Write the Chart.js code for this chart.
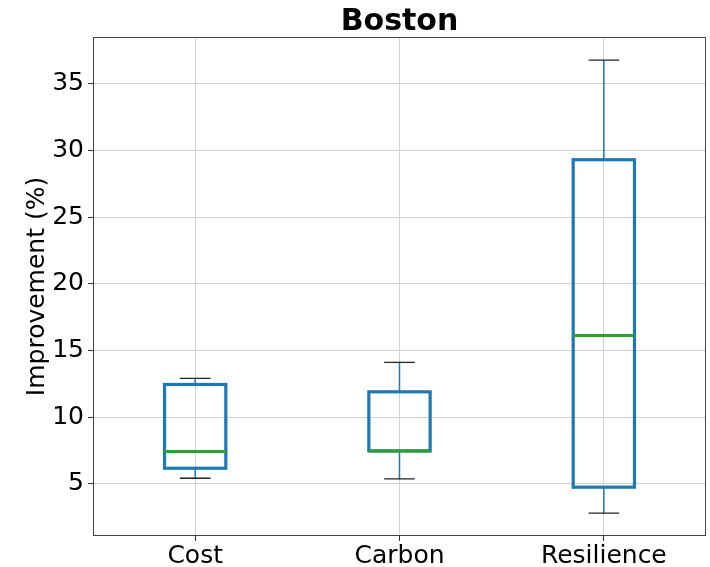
<!DOCTYPE html>
<html>
<head>
<meta charset="utf-8">
<script src="https://cdn.jsdelivr.net/npm/chart.js@4.4.1/dist/chart.umd.min.js"></script>
<style>
  html, body { margin: 0; padding: 0; background: #fff; }
  #wrap { width: 710px; height: 567px; }
</style>
</head>
<body>
<div id="wrap"><canvas id="boxChart" width="710" height="567"></canvas></div>
<script>
// values
const categories = ['Cost', 'Carbon', 'Resilience'];
const whiskerLow = [5.42, 5.37, 2.8];
const quart1 = [6.17, 7.47, 4.75];
const medians = [7.42, 7.47, 16.12];
const quart3 = [12.45, 11.9, 29.3];
const whiskerHigh = [12.9, 14.1, 36.77];
const yTicks = [5, 10, 15, 20, 25, 30, 35];

const boxBlue = '#1f77b4';
const medianGreen = '#2ca02c';

// boxes, whiskers, caps, medians and the frame, drawn from the bar elements / scales
const boxExtras = {
    id: 'boxExtras',
    afterDatasetsDraw(chart) {
        const ctx = chart.ctx;
        const y = chart.scales.y;
        const meta = chart.getDatasetMeta(0);
        const area = chart.chartArea;
        ctx.save();
        meta.data.forEach((bar, i) => {
            const cx = bar.x;
            const half = bar.width / 2;
            const top = y.getPixelForValue(quart3[i]);
            const bot = y.getPixelForValue(quart1[i]);
            // whiskers
            ctx.strokeStyle = boxBlue;
            ctx.lineWidth = 1.5;
            ctx.beginPath();
            ctx.moveTo(cx, top);
            ctx.lineTo(cx, y.getPixelForValue(whiskerHigh[i]));
            ctx.moveTo(cx, bot);
            ctx.lineTo(cx, y.getPixelForValue(whiskerLow[i]));
            ctx.stroke();
            // caps
            ctx.strokeStyle = '#222';
            ctx.lineWidth = 1.3;
            ctx.beginPath();
            ctx.moveTo(cx - half / 2, y.getPixelForValue(whiskerHigh[i]));
            ctx.lineTo(cx + half / 2, y.getPixelForValue(whiskerHigh[i]));
            ctx.moveTo(cx - half / 2, y.getPixelForValue(whiskerLow[i]));
            ctx.lineTo(cx + half / 2, y.getPixelForValue(whiskerLow[i]));
            ctx.stroke();
            // box
            ctx.strokeStyle = boxBlue;
            ctx.lineWidth = 3.2;
            ctx.lineJoin = 'miter';
            ctx.strokeRect(cx - half, top, half * 2, bot - top);
            // median
            const my = y.getPixelForValue(medians[i]);
            ctx.strokeStyle = medianGreen;
            ctx.lineWidth = 3;
            ctx.beginPath();
            ctx.moveTo(cx - half, my);
            ctx.lineTo(cx + half, my);
            ctx.stroke();
        });
        ctx.strokeStyle = '#444';
        ctx.lineWidth = 1;
        ctx.strokeRect(area.left + 0.5, area.top + 0.5, area.right - area.left - 1, area.bottom - area.top - 1);
        ctx.restore();
    }
};

const boxData = categories.map((c, i) => [quart1[i], quart3[i]]);

const ctx = document.getElementById('boxChart').getContext('2d');
const boxChart = new Chart(ctx, {
    type: 'bar',
    data: {
        labels: categories,
        datasets: [{
            data: boxData,
            backgroundColor: 'rgba(0,0,0,0)',
            borderWidth: 0,
            barPercentage: 0.3,
            categoryPercentage: 1
        }]
    },
    options: {
        responsive: false,
        animation: false,
        layout: { padding: { left: 0, right: 4, top: 0, bottom: 0 } },
        plugins: {
            legend: { display: false },
            tooltip: { enabled: false },
            title: {
                display: true,
                fullSize: false,
                text: 'Boston',
                color: '#000',
                font: { family: 'DejaVu Sans', size: 30, weight: 'bold', lineHeight: 0.9 },
                padding: { top: 9, bottom: 1 }
            }
        },
        scales: {
            x: {
                offset: true,
                grid: { offset: false, color: '#d0d0d0', lineWidth: 1, tickLength: 5, tickColor: '#333' },
                border: { display: false },
                ticks: { color: '#000', font: { family: 'DejaVu Sans', size: 25 }, padding: 0, maxRotation: 0 },
                afterFit(scale) { scale.height = 31; }
            },
            y: {
                min: 1.09,
                max: 38.5,
                grid: { color: '#d0d0d0', lineWidth: 1, tickLength: 5, tickColor: '#333' },
                border: { display: false },
                title: {
                    display: true,
                    text: 'Improvement (%)',
                    color: '#000',
                    font: { family: 'DejaVu Sans', size: 25, lineHeight: 1.2 },
                    padding: { top: 22, bottom: 0 }
                },
                ticks: { color: '#000', font: { family: 'DejaVu Sans', size: 25 }, padding: 4 },
                afterBuildTicks(scale) { scale.ticks = yTicks.map(v => ({ value: v })); },
                afterFit(scale) { scale.width = 93; }
            }
        }
    },
    plugins: [boxExtras]
});
</script>
</body>
</html>
